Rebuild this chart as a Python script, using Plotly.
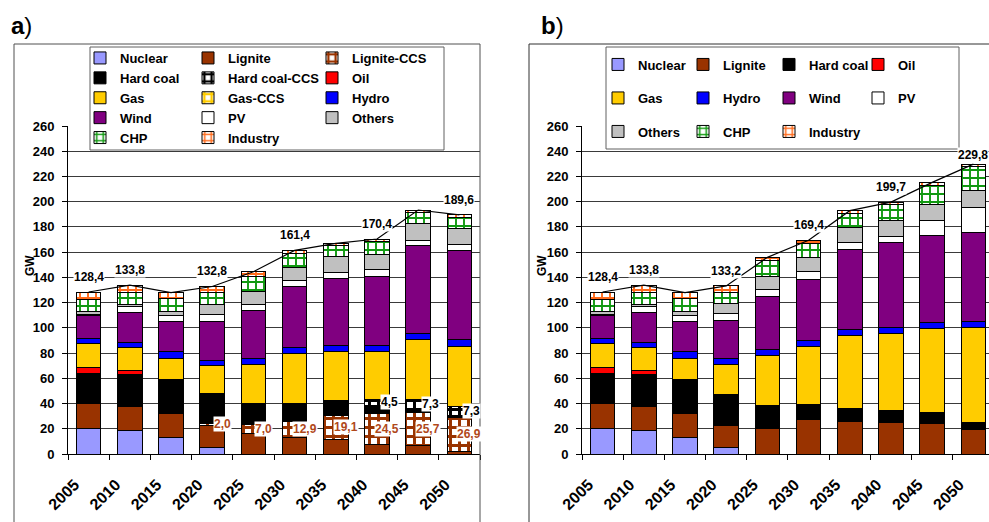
import plotly.graph_objects as go

W, H = 989, 522
FONT = "Liberation Sans, Arial, sans-serif"

years = ["2005", "2010", "2015", "2020", "2025", "2030", "2035", "2040", "2045", "2050"]

# ---- Scenario a: installed capacity in GW (with CCS) ----
a_nuclear = [20.0, 18.5, 13.2, 4.8, None, None, None, None, None, None]
a_lignite = [20.2, 19.5, 19.0, 17.7, 16.0, 13.2, 11.6, 7.9, 7.1, 2.1]
a_lignite_ccs = [None, None, None, 2.0, 7.0, 12.9, 19.1, 24.5, 25.7, 26.9]
a_hardcoal = [23.7, 25.4, 26.5, 23.6, 17.2, 14.1, 11.6, 6.4, 3.2, 1.2]
a_hardcoal_ccs = [None, None, None, None, None, None, None, 4.5, 7.3, 7.3]
a_oil = [4.8, 2.9, None, None, None, None, None, None, None, None]
a_gas = [19.0, 18.3, 17.4, 21.7, 31.1, 39.6, 39.3, 38.3, 47.6, 48.1]
a_gas_ccs = [None, None, None, None, None, None, None, None, None, None]
a_hydro = [4.0, 3.9, 4.8, 4.7, 4.3, 4.7, 4.8, 4.8, 4.7, 4.8]
a_wind = [18.2, 23.3, 24.0, 30.4, 38.0, 48.1, 53.1, 54.2, 69.3, 70.8]
a_pv = [1.0, 5.0, 4.8, 5.8, 5.0, 4.8, 4.5, 5.8, 4.7, 4.7]
a_others = [2.4, 1.6, 3.1, 7.9, 10.3, 10.6, 12.4, 11.9, 13.2, 13.0]
a_chp = [9.2, 10.0, 10.3, 9.3, 12.2, 11.0, 9.0, 10.5, 8.7, 8.7]
a_industry = [5.9, 5.4, 4.8, 4.9, 3.4, 2.4, 1.6, 1.6, 1.9, 2.0]

# ---- Scenario b: installed capacity in GW (without CCS) ----
b_nuclear = [20.0, 18.5, 13.2, 4.8, None, None, None, None, None, None]
b_lignite = [20.2, 19.5, 19.0, 17.9, 20.1, 27.0, 25.6, 24.8, 24.3, 19.6]
b_hardcoal = [23.7, 25.4, 26.5, 24.3, 18.2, 12.6, 10.3, 9.3, 8.5, 5.2]
b_oil = [4.8, 2.9, None, None, None, None, None, None, None, None]
b_gas = [19.0, 18.3, 17.4, 23.8, 39.6, 45.5, 57.9, 61.5, 66.8, 75.3]
b_hydro = [4.0, 3.9, 4.8, 4.8, 4.8, 4.5, 4.8, 4.8, 4.5, 4.8]
b_wind = [18.2, 23.3, 24.0, 30.1, 42.0, 49.1, 63.9, 67.4, 69.0, 70.5]
b_pv = [1.0, 5.0, 4.8, 5.8, 5.6, 5.6, 5.3, 5.0, 12.1, 19.9]
b_others = [2.4, 1.6, 3.1, 7.9, 10.3, 11.6, 11.9, 12.2, 12.7, 13.4]
b_chp = [9.2, 10.0, 10.3, 8.5, 12.6, 10.8, 11.1, 12.9, 15.3, 19.1]
b_industry = [5.9, 5.4, 4.8, 5.3, 2.7, 2.7, 2.1, 1.8, 2.1, 2.0]

# totals that get a value label on the line
labelled_years = ["2005", "2010", "2020", "2030", "2040", "2050"]

series_a = [
    ("Nuclear", a_nuclear), ("Lignite", a_lignite), ("Lignite-CCS", a_lignite_ccs),
    ("Hard coal", a_hardcoal), ("Hard coal-CCS", a_hardcoal_ccs), ("Oil", a_oil),
    ("Gas", a_gas), ("Gas-CCS", a_gas_ccs), ("Hydro", a_hydro), ("Wind", a_wind),
    ("PV", a_pv), ("Others", a_others), ("CHP", a_chp), ("Industry", a_industry),
]
series_b = [
    ("Nuclear", b_nuclear), ("Lignite", b_lignite), ("Hard coal", b_hardcoal),
    ("Oil", b_oil), ("Gas", b_gas), ("Hydro", b_hydro), ("Wind", b_wind),
    ("PV", b_pv), ("Others", b_others), ("CHP", b_chp), ("Industry", b_industry),
]

SOLID = {
    "Nuclear": "#9999FF", "Lignite": "#993300", "Hard coal": "#000000",
    "Oil": "#FF0000", "Gas": "#FFCC00", "Hydro": "#0000FF", "Wind": "#800080",
    "PV": "#FFFFFF", "Others": "#C0C0C0",
}
HATCH = {  # name: (foreground, background, shape, size, solidity)
    "CHP": ("#119911", "#FFFFFF", "+", 8, 0.42),
    "Industry": ("#FF6A1A", "#FFFFFF", "+", 8, 0.42),
    "Lignite-CCS": ("#993300", "#FFFFFF", "+", 9, 0.55),
    "Hard coal-CCS": ("#000000", "#FFFFFF", "+", 9, 0.55),
    "Gas-CCS": ("#FFCC00", "#FFFFFF", "+", 9, 0.55),
}

# legend columns (each column is a separate vertical legend)
cols_a = {
    "legend": ["Nuclear", "Hard coal", "Gas", "Wind", "CHP"],
    "legend2": ["Lignite", "Hard coal-CCS", "Gas-CCS", "PV", "Industry"],
    "legend3": ["Lignite-CCS", "Oil", "Hydro", "Others"],
}
cols_b = {
    "legend4": ["Nuclear", "Gas", "Others"],
    "legend5": ["Lignite", "Hydro", "CHP"],
    "legend6": ["Hard coal", "Wind", "Industry"],
    "legend7": ["Oil", "PV"],
}


def legend_of(name, cols):
    for k, v in cols.items():
        if name in v:
            return k


def marker_for(name):
    if name in HATCH:
        fg, bg, shape, size, sol = HATCH[name]
        return dict(color=bg, line=dict(color="#000000", width=1),
                    pattern=dict(shape=shape, fgcolor=fg, bgcolor=bg, size=size,
                                 solidity=sol, fillmode="replace"))
    return dict(color=SOLID[name], line=dict(color="#000000", width=1))


fig = go.Figure()
label_font = dict(family=FONT, size=12, color="#000000", weight="bold")


def add_panel(series, cols, xa, ya, tag):
    for name, vals in series:
        fig.add_trace(go.Bar(
            x=years, y=vals, name=name, xaxis=xa, yaxis=ya,
            marker=marker_for(name), legend=legend_of(name, cols),
            legendgroup=tag + name, hoverinfo="name+y",
        ))
    totals = [round(sum(v[i] or 0 for _, v in series), 1) for i in range(len(years))]
    fig.add_trace(go.Scatter(
        x=years, y=totals, mode="lines", xaxis=xa, yaxis=ya, showlegend=False,
        line=dict(color="#000000", width=1.2), hoverinfo="y",
    ))
    for i, (yr, t) in enumerate(zip(years, totals)):
        if yr in labelled_years:
            fig.add_annotation(
                x=i, y=t, xref=xa, yref=ya, yshift=15 if t < 220 else 9,
                text=f"{t:.1f}".replace(".", ","), showarrow=False,
                bgcolor="#FFFFFF", borderpad=0, font=label_font,
            )
    return totals


add_panel(series_a, cols_a, "x", "y", "a_")
add_panel(series_b, cols_b, "x2", "y2", "b_")

# value labels for the CCS segments of scenario a
for i, yr in enumerate(years):
    base = (a_nuclear[i] or 0) + (a_lignite[i] or 0)
    v = a_lignite_ccs[i]
    if v:
        fig.add_annotation(
            x=i, y=base + v / 2, xref="x", yref="y", xshift=10,
            text=f"{v:.1f}".replace(".", ","), showarrow=False,
            bgcolor="#FFFFFF", borderpad=0,
            font=dict(label_font, color="#B0481A"),
        )
    base2 = base + (v or 0) + (a_hardcoal[i] or 0)
    w = a_hardcoal_ccs[i]
    if w:
        fig.add_annotation(
            x=i, y=base2 + w / 2, xref="x", yref="y", xshift=12,
            text=f"{w:.1f}".replace(".", ","), showarrow=False,
            bgcolor="#FFFFFF", borderpad=0, font=label_font,
        )


def px_x(p):
    return p / W


def px_y(p):
    return 1 - p / H


tickfont = dict(family=FONT, size=13, color="#000000", weight="bold")
xtickfont = dict(family=FONT, size=16, color="#000000", weight="bold")
ydom = [px_y(454), px_y(126)]

common_x = dict(type="category", showline=True, linecolor="#000000", linewidth=1,
                ticks="outside", tickson="boundaries", ticklen=5, tickcolor="#000000",
                tickangle=-45, tickfont=xtickfont, showgrid=False, zeroline=False,
                ticklabelstandoff=14, ticklabelshift=-14, fixedrange=True)
common_y = dict(range=[0, 260], dtick=20, showline=True, linecolor="#000000",
                linewidth=1, ticks="outside", ticklen=5, tickcolor="#000000",
                tickfont=tickfont, showgrid=True, gridcolor="#3a3a3a", gridwidth=1,
                zeroline=False, domain=ydom, fixedrange=True, ticklabelstandoff=5)

legend_style = dict(xref="container", yref="container", xanchor="left", yanchor="top",
                    bgcolor="rgba(0,0,0,0)", borderwidth=0, orientation="v",
                    font=dict(family=FONT, size=13, color="#000000", weight="bold"))

legends = {}
for key, left in zip(cols_a, [80, 188, 312]):
    legends[key] = dict(legend_style, x=px_x(left), y=px_y(43), tracegroupgap=0,
                        traceorder="grouped")
for key, left in zip(cols_b, [598, 683, 769, 858]):
    legends[key] = dict(legend_style, x=px_x(left), y=px_y(49.5), tracegroupgap=13.6,
                        traceorder="grouped")

shapes = [
    # chart frames
    dict(type="rect", xref="paper", yref="paper", x0=px_x(14), x1=px_x(480),
         y0=px_y(540), y1=px_y(44), line=dict(color="#505050", width=1), layer="above"),
    dict(type="rect", xref="paper", yref="paper", x0=px_x(529), x1=px_x(1000),
         y0=px_y(540), y1=px_y(44), line=dict(color="#303030", width=1), layer="above"),
    # legend boxes
    dict(type="rect", xref="paper", yref="paper", x0=px_x(90), x1=px_x(444),
         y0=px_y(150), y1=px_y(47), fillcolor="#FFFFFF",
         line=dict(color="#606060", width=1), layer="above"),
    dict(type="rect", xref="paper", yref="paper", x0=px_x(606), x1=px_x(959),
         y0=px_y(149), y1=px_y(47), fillcolor="#FFFFFF",
         line=dict(color="#606060", width=1), layer="above"),
]

for txt, xl in [("<b>a</b>)", 9), ("<b>b</b>)", 539)]:
    fig.add_annotation(x=px_x(xl), y=px_y(26), xref="paper", yref="paper",
                       xanchor="left", yanchor="middle", text=txt, showarrow=False,
                       font=dict(family=FONT, size=24, color="#000000"))
for xc in [21, 542]:
    fig.add_annotation(x=px_x(xc), y=px_y(266), xref="paper", yref="paper",
                       text="GW", textangle=-90, showarrow=False,
                       font=dict(family=FONT, size=12, color="#000000", weight="bold"))

fig.update_layout(
    width=W, height=H, margin=dict(l=0, r=0, t=0, b=0, autoexpand=False),
    paper_bgcolor="#FFFFFF", plot_bgcolor="#FFFFFF",
    barmode="stack", bargap=0.4,
    xaxis=dict(common_x, domain=[px_x(68), px_x(480)], range=[-0.5, 9.5], anchor="y"),
    yaxis=dict(common_y, anchor="x"),
    xaxis2=dict(common_x, domain=[px_x(582), 1.0], range=[-0.5, 9.379], anchor="y2"),
    yaxis2=dict(common_y, anchor="x2"),
    shapes=shapes,
    **legends,
)

fig.write_html("out.html")
